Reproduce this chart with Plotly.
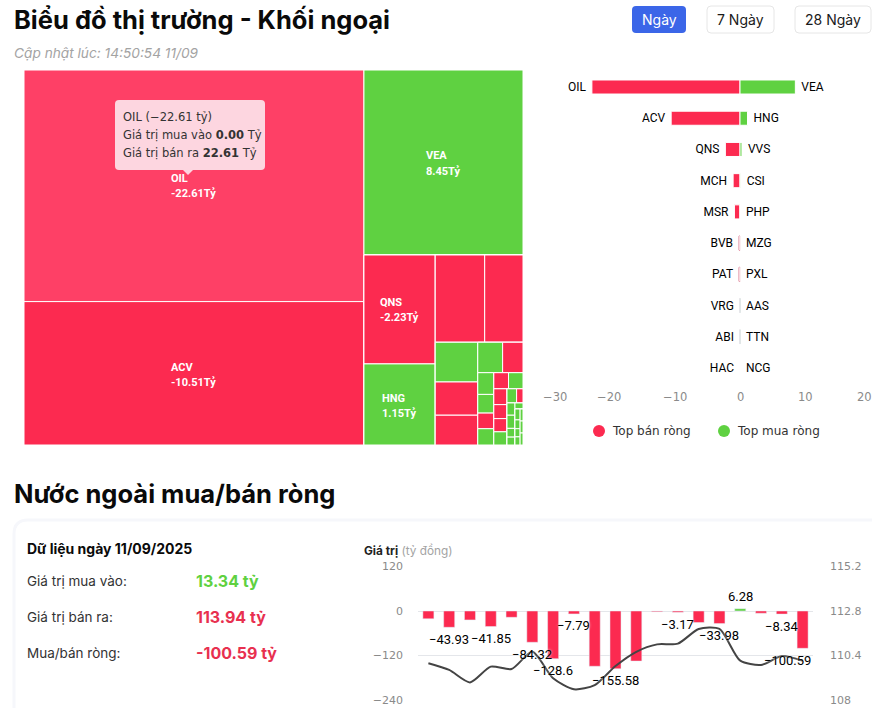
import plotly.graph_objects as go

W, H = 872, 708
RED = "#fc2a50"
RED_HOVER = "#fe4066"
GREEN = "#5fd141"
FONT = "Inter"

# net sell / buy ranking
rank = list(range(1, 11))
sell_codes = ["OIL", "ACV", "QNS", "MCH", "MSR", "BVB", "PAT", "VRG", "ABI", "HAC"]
sell_values = [-22.61, -10.51, -2.23, -1.05, -0.85, -0.15, -0.15, -0.02, -0.02, -0.001]
buy_codes = ["VEA", "HNG", "VVS", "CSI", "PHP", "MZG", "PXL", "AAS", "TTN", "NCG"]
buy_values = [8.45, 1.15, 0.3, 0.1, 0.001, 0.001, 0.001, 0.02, 0.02, 0.001]
sell_edges = ["#fff", "#fff", "#fff", "#fff", "#fff", "#d9748c", "#d9748c", "#e3e6ea", "#e3e6ea", "#fff"]
buy_edges = ["#fff", "#fff", "#fff", "#fff", "#fff", "#fff", "#fff", "#e3e6ea", "#e3e6ea", "#fff"]
rank_ticks = [-30, -20, -10, 0, 10, 20]
rank_tick_shift = [11, 0, 0, 0, 0, -7]

# treemap, gross traded value per ticker, groups only fix the tiling
tile_ids = ["all", "left", "right", "OIL", "ACV", "VEA", "c", "d", "e", "QNS", "HNG",
            "f", "g", "MCH", "MSR", "h", "i", "VVS", "BVB", "PAT", "j", "k", "CSI", "PHP",
            "l", "m", "MZG", "PXL", "VRG", "AAS", "n", "o", "ABI", "TTN", "p", "q",
            "HAC", "a1", "a2", "NCG", "r", "s", "b1", "b2", "s1", "s2", "c1", "c2", "c3", "c4",
            "c5", "t", "t1", "t2", "d1", "d2", "d3", "d4", "e1", "e2", "e3"]
tile_parents = ["", "all", "all", "left", "left", "right", "right", "c", "c", "d", "d",
                "e", "e", "f", "f", "g", "g", "h", "h", "h", "i", "i", "j", "j",
                "k", "k", "l", "l", "l", "l", "m", "m", "n", "n", "o", "o",
                "p", "p", "p", "p", "q", "q", "r", "r", "s", "s", "s1", "s1", "s1", "s1",
                "s2", "s2", "t", "t", "t1", "t1", "t1", "t1", "t2", "t2", "t2"]
tile_sizes = [0, 0, 0, 22.61, 14.0, 8.45, 0, 0, 0, 2.23, 1.66,
              0, 0, 1.24, 0.96, 0, 0, 0.485, 0.406, 0.364, 0, 0, 0.217, 0.178,
              0, 0, 0.10, 0.086, 0.072, 0.075, 0, 0, 0.068, 0.067, 0, 0,
              0.06, 0.053, 0.05, 0.05, 0, 0, 0.039, 0.026, 0, 0, 0.028, 0.03, 0.02, 0.018,
              0.014, 0, 0, 0, 0.016, 0.013, 0.012, 0.012, 0.010, 0.010, 0.010]
red_tiles = ["OIL", "ACV", "QNS", "MCH", "MSR", "BVB", "PAT", "PHP", "VRG", "ABI", "HAC", "a1", "a2", "b2"]
tile_labels = [("OIL", "-22.61Tỷ", 170, 179), ("ACV", "-10.51Tỷ", 170, 367),
               ("VEA", "8.45Tỷ", 425, 156), ("QNS", "-2.23Tỷ", 379, 302), ("HNG", "1.15Tỷ", 381, 398)]

# daily foreign net flow
days = list(range(1, 20))
net_values = [-21, -43.93, -24, -41.85, -17, -84.32, -128.6, -7.79, -149, -155.58, -135,
              -2, -3.17, -31, -33.98, 6.28, -6, -8.34, -100.59]
index_values = [109.98, 109.62, 108.95, 109.8, 109.67, 110.6, 109.17, 108.58, 108.8, 109.83,
                110.6, 111.0, 111.04, 111.83, 111.83, 110.12, 109.89, 110.37, 110.12]
shown_days = [2, 4, 6, 7, 8, 10, 13, 15, 16, 18, 19]


def px(x):
    return x / W


def py(y):
    return 1 - y / H


def label(x, y, text, size=12, color="#111", anchor="left", font=FONT):
    return dict(x=px(x), y=py(y), xref="paper", yref="paper", text=text, showarrow=False,
                xanchor=anchor, yanchor="middle", align="left", borderpad=0,
                font=dict(size=size, color=color, family=font))


def round_rect(x0, y0, x1, y1, r, fill, line="rgba(0,0,0,0)", width=1, layer="above"):
    a, b, c, d = px(x0), py(y0), px(x1), py(y1)
    rx, ry = r / W, r / H
    path = (f"M {a + rx} {b} L {c - rx} {b} Q {c} {b} {c} {b - ry} L {c} {d + ry} Q {c} {d} {c - rx} {d} "
            f"L {a + rx} {d} Q {a} {d} {a} {d + ry} L {a} {b - ry} Q {a} {b} {a + rx} {b} Z")
    return dict(type="path", path=path, xref="paper", yref="paper", fillcolor=fill, layer=layer,
                line=dict(color=line, width=width))


fig = go.Figure()

tile_colors = []
for name, size in zip(tile_ids, tile_sizes):
    if name == "OIL":
        tile_colors.append(RED_HOVER)
    elif name in red_tiles:
        tile_colors.append(RED)
    else:
        tile_colors.append(GREEN if size else "#ffffff")

fig.add_trace(go.Treemap(
    ids=tile_ids, labels=tile_ids, parents=tile_parents, values=tile_sizes,
    branchvalues="remainder", sort=False, textinfo="none", hoverinfo="skip",
    tiling=dict(packing="slice-dice", pad=0),
    pathbar=dict(visible=False),
    marker=dict(colors=tile_colors, pad=dict(t=0, l=0, r=0, b=0), depthfade=False,
                line=dict(color="#ffffff", width=1)),
    domain=dict(x=[px(24), px(523)], y=[py(445), py(70)]),
))

fig.add_trace(go.Bar(
    x=sell_values, y=rank, orientation="h", text=[c + "\u00a0" for c in sell_codes], textposition="outside",
    width=0.45, marker=dict(color=RED, line=dict(color=sell_edges, width=1)), cliponaxis=False,
    textfont=dict(family="Roboto", size=12, color="#000"), xaxis="x", yaxis="y", showlegend=False,
))
fig.add_trace(go.Bar(
    x=buy_values, y=rank, orientation="h", text=["\u00a0" + c for c in buy_codes], textposition="outside",
    width=0.45, marker=dict(color=GREEN, line=dict(color=buy_edges, width=1)), cliponaxis=False,
    textfont=dict(family="Roboto", size=12, color="#000"), xaxis="x", yaxis="y", showlegend=False,
))

fig.add_trace(go.Bar(
    x=days, y=net_values, width=0.53, xaxis="x2", yaxis="y2", showlegend=False,
    marker=dict(color=[GREEN if v > 0 else RED for v in net_values]),
))
fig.add_trace(go.Scatter(
    x=days, y=index_values, mode="lines", xaxis="x2", yaxis="y3", showlegend=False,
    line=dict(color="#444444", width=2, shape="spline", smoothing=0.7),
))

annotations = [
    label(13, 20, "<b>Biểu đồ thị trường - Khối ngoại</b>", 25.5, "#0a0a0a"),
    label(13, 53, "<i>Cập nhật lúc: 14:50:54 11/09</i>", 13.7, "#a3a3a3"),
    label(659, 20, "Ngày", 14, "#ffffff", "center"),
    label(740, 20, "7 Ngày", 14, "#1a1a1a", "center"),
    label(833, 20, "28 Ngày", 14, "#1a1a1a", "center"),
    label(122, 117, "OIL (−22.61 tỷ)", 11.5, "#333", font="DejaVu Sans"),
    label(122, 135, "Giá trị mua vào <b>0.00</b> Tỷ", 11.5, "#333", font="DejaVu Sans"),
    label(122, 153, "Giá trị bán ra <b>22.61</b> Tỷ", 11.5, "#333", font="DejaVu Sans"),
    label(611, 431, "Top bán ròng", 12, "#333", font="DejaVu Sans"),
    label(736, 431, "Top mua ròng", 12, "#333", font="DejaVu Sans"),
    label(13, 493, "<b>Nước ngoài mua/bán ròng</b>", 25.5, "#0a0a0a"),
    label(26, 548, "<b>Dữ liệu ngày 11/09/2025</b>", 14, "#0a0a0a"),
    label(26, 581, "Giá trị mua vào:", 13.5, "#333"),
    label(26, 617, "Giá trị bán ra:", 13.5, "#333"),
    label(26, 653, "Mua/bán ròng:", 13.5, "#333"),
    label(195, 581, "<b>13.34 tỷ</b>", 16, GREEN),
    label(195, 617, "<b>113.94 tỷ</b>", 16, "#e8304f"),
    label(195, 653, "<b>-100.59 tỷ</b>", 16, "#e8304f"),
    label(363, 550, "<b>Giá trị</b> <span style='color:#a3a3a3'>(tỷ đồng)</span>", 11.8, "#222"),
]

for code, value, x, y in tile_labels:
    annotations.append(label(x, y, f"<b>{code}</b>", 11, "#ffffff", font="Roboto"))
    annotations.append(label(x, y + 15, f"<b>{value}</b>", 11, "#ffffff", font="Roboto"))

for tick, shift in zip(rank_ticks, rank_tick_shift):
    annotations.append(dict(x=tick, y=py(397), xref="x", yref="paper", text=str(tick).replace("-", "−"),
                            showarrow=False, xshift=shift, yanchor="middle",
                            font=dict(size=11.5, color="#8a8a8a", family="DejaVu Sans")))

for day in shown_days:
    value = net_values[day - 1]
    annotations.append(dict(x=day, y=value, xref="x2", yref="y2", text=f"{value:g}".replace("-", "−"),
                            showarrow=False, yshift=12 if value > 0 else -12, yanchor="middle",
                            xshift=-15 if day == 19 else 0,
                            font=dict(size=13, color="#000", family="Roboto", shadow="white 0 0 3px")))

shapes = [
    round_rect(632, 6, 686, 33, 4, "#3b66e8"),
    round_rect(707, 6, 774, 33, 4, "#ffffff", "#e6e6e6"),
    round_rect(795, 6, 871, 33, 4, "#ffffff", "#e6e6e6"),
    round_rect(14, 520, 900, 760, 14, "#ffffff", "#f6f7fb", 3, layer="below"),
    round_rect(115, 100, 265, 170, 4, "#fdd6e0"),
    dict(type="path", xref="paper", yref="paper", fillcolor="#fdd6e0", line=dict(width=0),
         path=f"M {px(183)} {py(170)} L {px(193)} {py(170)} L {px(188)} {py(175)} Z"),
    dict(type="circle", xref="paper", yref="paper", fillcolor=RED, line=dict(width=0),
         x0=px(593), x1=px(605), y0=py(437), y1=py(425)),
    dict(type="circle", xref="paper", yref="paper", fillcolor=GREEN, line=dict(width=0),
         x0=px(718), x1=px(730), y0=py(437), y1=py(425)),
]

fig.update_layout(
    width=W, height=H, autosize=False, margin=dict(l=0, r=0, t=0, b=0, autoexpand=False),
    paper_bgcolor="#ffffff", plot_bgcolor="rgba(0,0,0,0)", barmode="overlay",
    font=dict(family=FONT), annotations=annotations, shapes=shapes,
    xaxis=dict(domain=[px(543.5), px(871)], range=[-30, 20], showticklabels=False, showgrid=False,
               zeroline=False, anchor="y"),
    yaxis=dict(domain=[py(383.6), py(71.4)], range=[10.5, 0.5], showticklabels=False, showgrid=False,
               zeroline=False, anchor="x"),
    xaxis2=dict(domain=[px(418), px(813)], range=[0.5, 19.5], showticklabels=False, showgrid=False,
                zeroline=False, anchor="y2"),
    yaxis2=dict(domain=[py(700), py(566.5)], range=[-240, 120], tickvals=[-240, -120, 0, 120],
                ticktext=["−240", "−120", "0", "120"], gridcolor="#e4e6ea", zeroline=False,
                ticklabelstandoff=14, tickfont=dict(size=11, color="#8a8a8a", family="DejaVu Sans"),
                anchor="x2"),
    yaxis3=dict(domain=[py(700), py(566.5)], range=[108, 115.2], tickvals=[108, 110.4, 112.8, 115.2],
                ticktext=["108", "110.4", "112.8", "115.2"], overlaying="y2", side="right", showgrid=False,
                zeroline=False, ticklabelstandoff=16, anchor="x2",
                tickfont=dict(size=11, color="#8a8a8a", family="DejaVu Sans")),
)

fig.write_html("out.html", config=dict(displayModeBar=False),
               post_script="document.body.style.margin='0';document.body.style.overflow='hidden';")
